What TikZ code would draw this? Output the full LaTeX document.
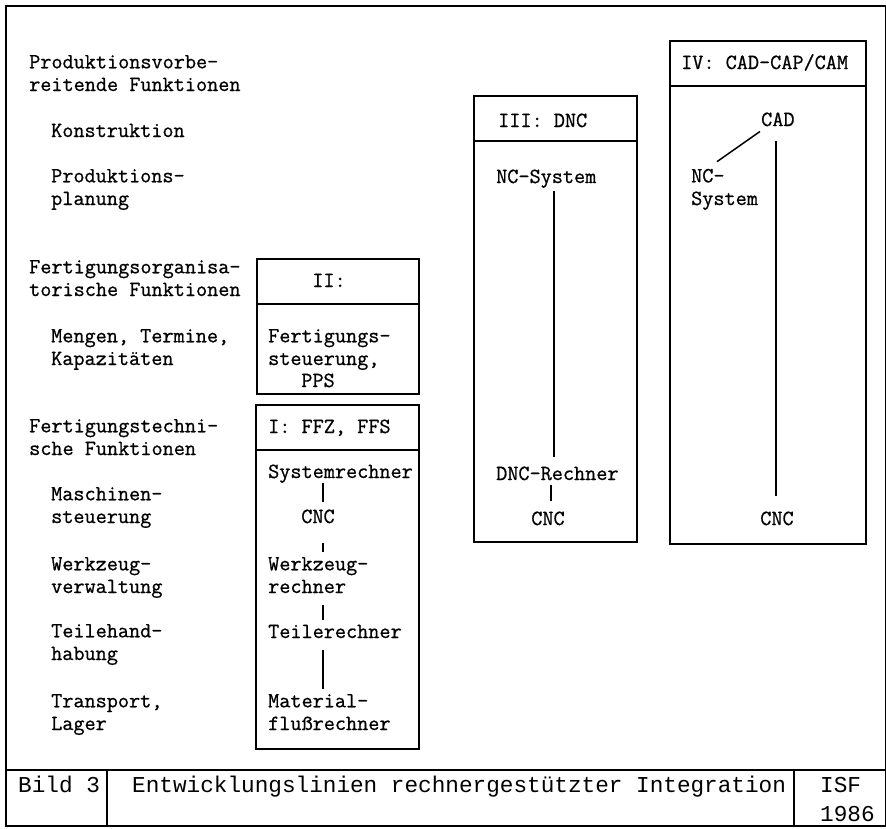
\documentclass[tikz,border=0pt]{standalone}
\usepackage{fontspec}
\newfontfamily\footfont{Liberation Mono}
\newfontfamily\bodyfont[FakeBold=0.8]{Latin Modern Mono}
\begin{document}
\begin{tikzpicture}[x=1pt,y=-1pt,
  txt/.style={font=\bodyfont\fontsize{21.6}{22.7}\selectfont, inner sep=0pt, anchor=base west, align=left},
  ctxt/.style={font=\bodyfont\fontsize{21.6}{22.7}\selectfont, inner sep=0pt, anchor=base},
  ftxt/.style={font=\footfont\fontsize{22.7}{29}\selectfont, inner sep=0pt, anchor=base west, align=left},
  frame/.style={draw, line width=1.6pt, inner sep=0pt, anchor=north west},
  conn/.style={line width=1.5pt}]
\useasboundingbox (0,0) rectangle (886,828);
% outer frame and footer
\node[frame, minimum width=880pt, minimum height=820pt] (outer) at (5,5) {};
\coordinate (fy) at (0,770);
\coordinate (d1) at (107,0);
\coordinate (d2) at (794,0);
\draw[line width=1.6pt] (outer.west |- fy) -- (outer.east |- fy);
\draw[line width=1.6pt] (d1 |- fy) -- (d1 |- outer.south);
\draw[line width=1.6pt] (d2 |- fy) -- (d2 |- outer.south);
\node[ftxt] (bild) at (18,792) {Bild 3};
\node[ftxt] (title) at (132,792) {Entwicklungslinien rechnergestützter Integration};
\node[ftxt] (isf) at (820,792) {ISF};
\node[ftxt] (year) at (820,821) {1986};
% left column (multi-line nodes: base = last line)
\node[txt] (t1) at (29,91) {Produktionsvorbe-\\reitende Funktionen};
\node[txt] (t2) at (51,137) {Konstruktion};
\node[txt] (t3) at (51,205) {Produktions-\\planung};
\node[txt] (t4) at (29,296) {Fertigungsorganisa-\\torische Funktionen};
\node[txt] (t5) at (51,365) {Mengen, Termine,\\Kapazitäten};
\node[txt] (t6) at (29,455) {Fertigungstechni-\\sche Funktionen};
\node[txt] (t7) at (51,523) {Maschinen-\\steuerung};
\node[txt] (t8) at (51,593) {Werkzeug-\\verwaltung};
\node[txt] (t9) at (51,660) {Teilehand-\\habung};
\node[txt] (t10) at (51,730) {Transport,\\Lager};
% Box II
\node[frame, minimum width=162pt, minimum height=135pt] (boxII) at (256,258) {};
\coordinate (h2) at (0,304);
\draw[line width=1.6pt] (boxII.west |- h2) -- (boxII.east |- h2);
\node[ctxt] (hII) at (329,287) {II:};
\node[txt] (fs) at (268,365) {Fertigungs-\\steuerung,};
\node[ctxt] (pps) at (318,387) {PPS};
% Box I
\node[frame, minimum width=163pt, minimum height=344pt] (boxI) at (255,404) {};
\coordinate (h1) at (0,450);
\draw[line width=1.6pt] (boxI.west |- h1) -- (boxI.east |- h1);
\node[txt] (hI) at (268,433) {I: FFZ, FFS};
\node[txt] (sys) at (268,478) {Systemrechner};
\node[ctxt] (cnc1) at (318,523) {CNC};
\node[txt] (wz) at (268,593) {Werkzeug-\\rechner};
\node[txt] (tr) at (268,638) {Teilerechner};
\node[txt] (mf) at (268,730) {Material-\\flußrechner};
\coordinate (xI) at (323,0);
\draw[conn] (sys.south -| xI) -- ([yshift=7pt]cnc1.north -| xI);
\draw[conn] ([yshift=-20pt]cnc1.south -| xI) -- ([yshift=5pt]wz.north -| xI);
\draw[conn] ([yshift=-12pt]wz.south -| xI) -- ([yshift=5pt]tr.north -| xI);
\draw[conn] ([yshift=-12pt]tr.south -| xI) -- ([yshift=5pt]mf.north -| xI);
% Box III
\node[frame, minimum width=163pt, minimum height=446pt] (boxIII) at (473,95) {};
\coordinate (h3) at (0,141);
\draw[line width=1.6pt] (boxIII.west |- h3) -- (boxIII.east |- h3);
\node[txt] (hIII) at (498,127) {III: DNC};
\node[txt] (ncs) at (496,183) {NC-System};
\node[txt] (dncr) at (496,480) {DNC-Rechner};
\node[ctxt] (cnc3) at (548,525) {CNC};
\coordinate (xIII) at (554,0);
\coordinate (xIIIb) at (551,0);
\draw[conn] ([yshift=-2.5pt]ncs.south -| xIII) -- ([yshift=9pt]dncr.north -| xIII);
\draw[conn] ([yshift=-5pt]dncr.south -| xIIIb) -- ([yshift=10pt]cnc3.north -| xIIIb);
% Box IV
\node[frame, minimum width=196pt, minimum height=503pt] (boxIV) at (669,40) {};
\coordinate (h4) at (0,86);
\draw[line width=1.6pt] (boxIV.west |- h4) -- (boxIV.east |- h4);
\node[txt] (hIV) at (681,69) {IV: CAD-CAP/CAM};
\node[txt] (cad) at (761,126) {CAD};
\node[txt] (ncs4) at (691,205) {NC-\\System};
\node[ctxt] (cnc4) at (777,525) {CNC};
\coordinate (xIV) at (776,0);
\draw[conn] ([xshift=-1pt,yshift=-5pt]cad.south west) -- ([xshift=26pt,yshift=7pt]ncs4.north west);
\draw[conn] ([yshift=-15pt]cad.south -| xIV) -- ([yshift=15pt]cnc4.north -| xIV);
\end{tikzpicture}
\end{document}
